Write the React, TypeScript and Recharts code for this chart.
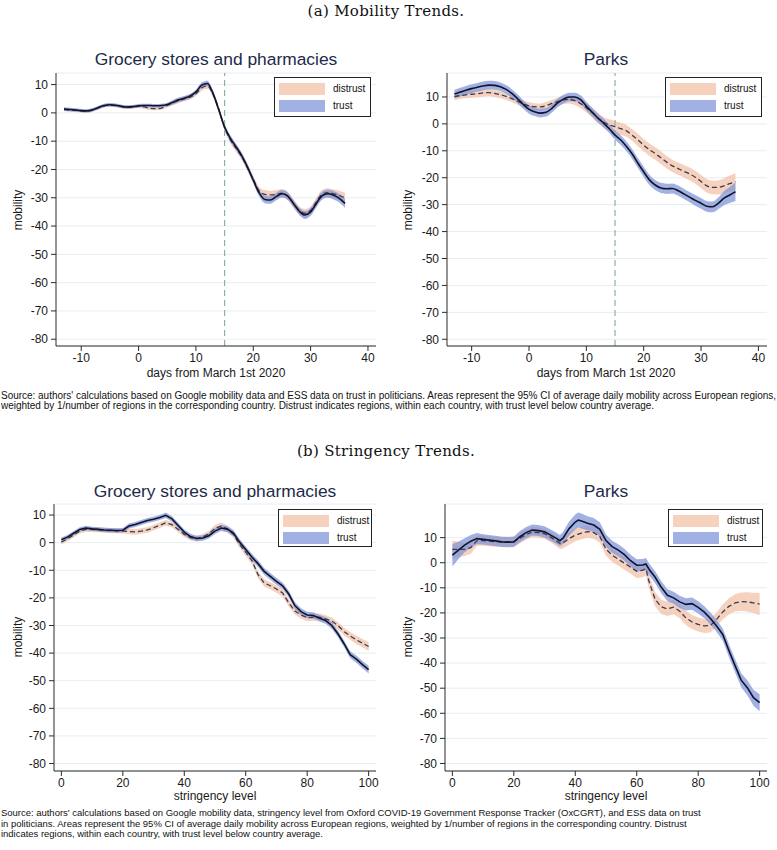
import React from 'react';
import {
  ComposedChart,
  Area,
  Line,
  XAxis,
  YAxis,
  CartesianGrid,
  ReferenceLine,
} from 'recharts';

// days from March 1st 2020
const days = [
  -13, -12, -11, -10, -9, -8, -7, -6, -5, -4, -3, -2, -1, 0, 1, 2, 3, 4, 5, 6, 7, 8, 9, 10, 11, 12,
  13, 14, 15, 16, 17, 18, 19, 20, 21, 22, 23, 24, 25, 26, 27, 28, 29, 30, 31, 32, 33, 34, 35, 36,
];

// (a) grocery stores and pharmacies
const groceryDaysTrust = [
  1.4, 1.2, 1.0, 0.8, 0.7, 1.1, 1.9, 2.6, 2.9, 2.7, 2.3, 2.1, 2.2, 2.5, 2.6, 2.6, 2.5, 2.6, 3.0, 3.8,
  4.6, 5.2, 6.0, 7.4, 9.8, 10.4, 6.8, 1.0, -5.0, -9.0, -12.0, -15.2, -19.2, -23.8, -28.2, -30.6,
  -30.8, -29.6, -28.6, -29.4, -32.0, -34.7, -36.1, -35.0, -32.0, -29.3, -28.6, -29.1, -30.2, -32.0,
];
const groceryDaysDistrust = [
  1.2, 1.0, 0.9, 0.7, 0.6, 1.0, 1.8, 2.5, 2.8, 2.6, 2.2, 2.0, 2.1, 2.3, 2.1, 1.6, 1.5, 1.7, 2.6, 3.6,
  4.4, 5.0, 5.6, 6.8, 8.8, 9.5, 6.5, 1.2, -5.2, -9.5, -12.5, -15.5, -19.5, -23.5, -27.5, -28.8,
  -29.0, -28.8, -28.4, -29.4, -32.0, -34.5, -35.5, -34.5, -31.5, -28.8, -28.2, -28.6, -29.2, -30.0,
];
const groceryDaysTrustCI = [
  0.6, 0.6, 0.6, 0.6, 0.6, 0.6, 0.6, 0.6, 0.6, 0.6, 0.6, 0.6, 0.6, 0.6, 0.6, 0.6, 0.6, 0.6, 0.6, 0.8,
  0.8, 0.8, 0.8, 0.8, 0.9, 1.0, 1.0, 1.0, 1.0, 1.1, 1.1, 1.1, 1.1, 1.1, 1.2, 1.3, 1.3, 1.3, 1.3, 1.3,
  1.3, 1.3, 1.4, 1.4, 1.4, 1.4, 1.4, 1.5, 1.5, 1.6,
];
const groceryDaysDistrustCI = [
  0.6, 0.6, 0.6, 0.6, 0.6, 0.6, 0.6, 0.6, 0.6, 0.6, 0.6, 0.6, 0.6, 0.6, 0.6, 0.6, 0.6, 0.6, 0.7, 0.9,
  0.9, 0.9, 0.9, 0.9, 1.0, 1.0, 1.1, 1.1, 1.1, 1.2, 1.2, 1.2, 1.2, 1.3, 1.4, 1.5, 1.5, 1.5, 1.5, 1.5,
  1.5, 1.5, 1.5, 1.5, 1.5, 1.5, 1.6, 1.6, 1.7, 1.8,
];

// (a) parks
const parksDaysTrust = [
  11.1, 11.8, 12.5, 13.1, 13.6, 14.1, 14.4, 14.3, 13.8, 12.8, 11.3, 9.4, 7.2, 5.4, 4.5, 4.0, 4.3, 5.8,
  7.8, 9.2, 10.0, 10.0, 9.0, 6.6, 4.4, 2.2, 0.3, -1.8, -4.2, -6.0, -8.4, -11.2, -14.6, -17.8, -20.8,
  -22.7, -23.8, -24.1, -24.0, -24.8, -26.0, -27.2, -28.4, -29.5, -30.6, -30.8, -29.5, -27.6, -26.4, -25.2,
];
const parksDaysDistrust = [
  10.1, 10.5, 10.8, 11.0, 11.2, 11.5, 11.6, 11.3, 10.8, 10.2, 9.4, 8.4, 7.4, 6.7, 6.4, 6.3, 6.8, 7.6,
  8.3, 8.9, 9.1, 8.6, 7.5, 6.0, 4.2, 2.2, 0.6, -0.4, -1.0, -1.8, -2.6, -4.2, -6.0, -7.9, -9.6, -11.0,
  -12.6, -14.2, -15.6, -16.6, -17.6, -18.6, -19.8, -21.4, -23.0, -23.6, -23.6, -23.0, -22.2, -21.5,
];
const parksDaysTrustCI = [
  1.6, 1.6, 1.6, 1.6, 1.6, 1.6, 1.6, 1.6, 1.6, 1.6, 1.6, 1.6, 1.6, 1.6, 1.6, 1.6, 1.6, 1.6, 1.6, 1.6,
  1.6, 1.6, 1.6, 1.6, 1.6, 1.6, 1.6, 1.6, 1.7, 1.8, 1.8, 1.8, 1.8, 1.9, 1.9, 1.9, 1.9, 1.9, 1.9, 1.9,
  1.9, 1.9, 2.0, 2.0, 2.0, 2.0, 2.2, 2.6, 3.0, 3.4,
];
const parksDaysDistrustCI = [
  1.3, 1.3, 1.3, 1.3, 1.3, 1.3, 1.3, 1.3, 1.3, 1.3, 1.3, 1.3, 1.3, 1.3, 1.3, 1.3, 1.3, 1.4, 1.4, 1.5,
  1.5, 1.6, 1.7, 1.8, 1.9, 2.0, 2.0, 2.1, 2.1, 2.2, 2.2, 2.2, 2.3, 2.3, 2.3, 2.3, 2.3, 2.3, 2.3, 2.3,
  2.3, 2.4, 2.4, 2.4, 2.5, 2.5, 2.6, 2.8, 3.0, 3.2,
];

// (b) stringency level
const stringency = [
  0, 2, 4, 6, 8, 10, 12, 14, 16, 18, 20, 22, 24, 26, 28, 30, 32, 34, 36, 38, 40, 42, 44, 46, 48, 50,
  52, 54, 56, 58, 60, 62, 64, 66, 68, 70, 72, 74, 76, 78, 80, 82, 84, 86, 88, 90, 92, 94, 96, 98, 100,
];
const groceryStrTrust = [
  1.1, 2.0, 3.4, 4.8, 5.3, 5.0, 4.8, 4.6, 4.5, 4.4, 4.5, 6.0, 6.6, 7.3, 8.0, 8.5, 9.1, 9.9, 8.6, 6.2,
  3.8, 2.2, 1.5, 1.7, 2.5, 4.2, 5.3, 4.9, 3.5, 0.2, -2.5, -5.2, -7.6, -10.4, -12.2, -14.0, -15.6,
  -18.6, -22.8, -25.0, -26.2, -26.4, -27.4, -28.2, -30.0, -33.0, -36.6, -40.6, -42.2, -44.2, -46.0,
];
const groceryStrDistrust = [
  0.2, 1.4, 2.8, 4.2, 4.8, 4.8, 4.7, 4.5, 4.4, 4.3, 4.2, 4.0, 3.9, 4.2, 4.6, 5.4, 6.3, 7.2, 6.5, 4.8,
  3.0, 1.8, 1.5, 2.0, 3.2, 5.2, 6.0, 5.0, 3.0, -0.6, -3.5, -6.5, -11.6, -14.6, -15.6, -16.8, -18.2,
  -21.8, -24.8, -26.2, -27.2, -27.0, -27.0, -27.6, -28.4, -30.0, -32.2, -33.8, -35.2, -36.4, -37.6,
];
const groceryStrTrustCI = [
  0.8, 0.8, 0.8, 0.8, 0.8, 0.8, 0.8, 0.8, 0.8, 0.8, 0.8, 0.9, 0.9, 0.9, 0.9, 0.9, 0.9, 1.0, 1.0, 1.0,
  1.0, 1.0, 1.0, 1.0, 1.0, 1.1, 1.1, 1.1, 1.1, 1.1, 1.1, 1.2, 1.2, 1.2, 1.2, 1.2, 1.2, 1.2, 1.2, 1.2,
  1.2, 1.2, 1.2, 1.2, 1.2, 1.2, 1.2, 1.3, 1.3, 1.3, 1.4,
];
const groceryStrDistrustCI = [
  0.9, 0.9, 0.9, 0.9, 0.9, 0.9, 0.9, 0.9, 0.9, 0.9, 0.9, 1.0, 1.0, 1.0, 1.0, 1.0, 1.0, 1.0, 1.0, 1.0,
  1.0, 1.0, 1.0, 1.0, 1.1, 1.2, 1.3, 1.2, 1.2, 1.2, 1.2, 1.3, 1.3, 1.3, 1.3, 1.3, 1.3, 1.3, 1.3, 1.3,
  1.3, 1.3, 1.3, 1.3, 1.3, 1.3, 1.4, 1.4, 1.5, 1.5, 1.6,
];

const stringencyParks = [
  0, 2, 4, 6, 8, 10, 12, 14, 16, 18, 20, 22, 24, 26, 28, 30, 32, 34, 35, 36, 38, 40, 41, 42, 44, 46,
  48, 50, 52, 54, 56, 58, 60, 62, 63, 64, 66, 68, 70, 72, 74, 76, 78, 80, 82, 84, 86, 88, 90, 92, 94,
  96, 98, 100,
];
const parksStrTrust = [
  3.0, 5.0, 7.0, 8.6, 9.6, 9.3, 9.0, 8.7, 8.3, 8.2, 8.3, 10.4, 12.0, 13.0, 12.8, 12.3, 11.0, 9.6, 8.8,
  9.8, 13.6, 16.2, 17.0, 16.6, 15.7, 15.0, 13.3, 8.8, 6.4, 5.0, 3.2, 0.8, -1.0, -0.9, -0.5, -2.6, -5.8,
  -9.8, -13.0, -14.0, -15.6, -16.6, -16.3, -17.8, -19.7, -22.2, -25.2, -28.6, -35.0, -41.0, -46.8,
  -49.8, -53.8, -55.8,
];
const parksStrDistrust = [
  5.3, 5.3, 5.3, 6.0, 8.8, 8.8, 8.6, 8.4, 8.3, 8.3, 8.4, 9.8, 11.2, 12.2, 12.0, 11.6, 10.2, 8.6, 7.7,
  7.9, 9.6, 11.0, 11.4, 11.8, 12.4, 12.0, 10.4, 5.4, 3.0, 1.4, -0.2, -1.8, -3.4, -3.0, -2.4, -7.5,
  -14.6, -17.6, -18.4, -17.7, -19.3, -22.0, -23.6, -24.6, -25.2, -25.0, -22.6, -19.6, -17.4, -16.0,
  -15.5, -15.6, -16.0, -16.5,
];
const parksStrTrustCI = [
  4.5, 3.5, 2.8, 2.4, 2.2, 2.0, 2.0, 2.0, 2.0, 2.0, 2.0, 2.2, 2.2, 2.2, 2.2, 2.2, 2.2, 2.2, 2.2, 2.4,
  2.8, 3.0, 3.0, 3.0, 2.8, 2.8, 2.8, 2.4, 2.4, 2.4, 2.4, 2.4, 2.4, 2.4, 2.4, 2.4, 2.4, 2.4, 2.4, 2.4,
  2.4, 2.4, 2.4, 2.4, 2.4, 2.4, 2.4, 2.4, 2.6, 2.6, 2.8, 3.0, 3.2, 3.4,
];
const parksStrDistrustCI = [
  3.6, 3.0, 2.6, 2.4, 2.0, 2.0, 2.0, 2.0, 2.0, 2.0, 2.0, 2.0, 2.0, 2.0, 2.0, 2.0, 2.0, 2.2, 2.2, 2.2,
  2.4, 2.4, 2.4, 2.4, 2.4, 2.4, 2.4, 2.6, 2.6, 2.6, 2.6, 2.6, 2.8, 2.8, 2.8, 2.8, 2.8, 2.8, 2.8, 2.8,
  2.8, 2.8, 2.8, 2.8, 2.8, 2.8, 2.8, 3.0, 3.2, 3.4, 3.6, 3.8, 4.0, 4.4,
];

const yTicks = [-80, -70, -60, -50, -40, -30, -20, -10, 0, 10];
const dayTicks = [-10, 0, 10, 20, 30, 40];
const strTicks = [0, 20, 40, 60, 80, 100];

const DISTRUST_FILL = '#f2bea3';
const TRUST_FILL = '#7d93d8';
const AXIS = '#2b2b2b';
const FONT = '"Liberation Sans", Arial, Helvetica, sans-serif';

function buildRows(xs: number[], trust: number[], trustCI: number[], distrust: number[], distrustCI: number[]) {
  return xs.map((x, i) => ({
    x,
    trust: trust[i],
    distrust: distrust[i],
    trustBand: [trust[i] - trustCI[i], trust[i] + trustCI[i]],
    distrustBand: [distrust[i] - distrustCI[i], distrust[i] + distrustCI[i]],
  }));
}

const Centered = ({ x, y, children, style }: any) => (
  <div
    style={{
      position: 'absolute',
      left: x,
      top: y,
      transform: 'translate(-50%, -50%)',
      whiteSpace: 'nowrap',
      fontFamily: FONT,
      ...style,
    }}
  >
    {children}
  </div>
);

const LegendBox = ({ left, top, width, height }: any) => (
  <div
    style={{
      position: 'absolute',
      left,
      top,
      width,
      height,
      boxSizing: 'border-box',
      border: '1px solid #222',
      background: '#fff',
      fontFamily: FONT,
      fontSize: 10,
      color: '#111',
    }}
  >
    {[
      { name: 'distrust', fill: DISTRUST_FILL, op: 0.7 },
      { name: 'trust', fill: TRUST_FILL, op: 0.72 },
    ].map((e, i) => (
      <div key={e.name} style={{ position: 'absolute', left: 4, top: 4 + i * 17, height: 13, display: 'flex', alignItems: 'center' }}>
        <div style={{ width: 46, height: 12, background: e.fill, opacity: e.op }} />
        <span style={{ marginLeft: 8 }}>{e.name}</span>
      </div>
    ))}
  </div>
);

interface PanelProps {
  rows: any[];
  plot: { l: number; t: number; r: number; b: number };
  xDomain: number[];
  yDomain: number[];
  xTicks: number[];
  curve: 'monotone' | 'linear';
  refX?: number;
}

const YW = 50;
const XH = 30;

const Panel = ({ rows, plot, xDomain, yDomain, xTicks, curve, refX }: PanelProps) => {
  const width = plot.r - plot.l + YW + 4;
  const height = plot.b - plot.t + XH + 4;
  return (
    <div style={{ position: 'absolute', left: plot.l - YW, top: plot.t - 4 }}>
      <ComposedChart width={width} height={height} data={rows} margin={{ top: 4, right: 4, left: 0, bottom: 0 }}>
        <CartesianGrid vertical={false} stroke="#e6eef2" strokeWidth={1} />
        <XAxis
          dataKey="x"
          type="number"
          domain={xDomain}
          ticks={xTicks}
          allowDataOverflow
          height={XH}
          stroke={AXIS}
          tickSize={5}
          tickMargin={2}
          tick={{ fontSize: 12, fill: '#1a1a1a', fontFamily: FONT }}
        />
        <YAxis
          type="number"
          domain={yDomain}
          ticks={yTicks}
          allowDataOverflow
          width={YW}
          stroke={AXIS}
          tickSize={5}
          tickMargin={3}
          tick={{ fontSize: 12, fill: '#1a1a1a', fontFamily: FONT }}
        />
        <Area
          type={curve}
          dataKey="distrustBand"
          stroke="none"
          fill={DISTRUST_FILL}
          fillOpacity={0.7}
          isAnimationActive={false}
        />
        <Area
          type={curve}
          dataKey="trustBand"
          stroke="none"
          fill={TRUST_FILL}
          fillOpacity={0.72}
          isAnimationActive={false}
        />
        {refX !== undefined && (
          <ReferenceLine x={refX} stroke="#8fb0a6" strokeWidth={1.2} strokeDasharray="6 4" />
        )}
        <Line
          type={curve}
          dataKey="distrust"
          stroke="#343d55"
          strokeWidth={1.3}
          strokeDasharray="5 3"
          dot={false}
          isAnimationActive={false}
        />
        <Line
          type={curve}
          dataKey="trust"
          stroke="#10132a"
          strokeWidth={1.6}
          dot={false}
          isAnimationActive={false}
        />
      </ComposedChart>
    </div>
  );
};

const titleStyle = { fontSize: 17.4, color: '#1d2a4a' };
const axisLabelStyle = { fontSize: 12, color: '#1a1a1a' };
const captionStyle = { fontFamily: '"DejaVu Serif", "Liberation Serif", serif', fontSize: 15, letterSpacing: 0.3, color: '#111' };
const sourceStyle: any = {
  position: 'absolute',
  left: 1,
  fontFamily: FONT,
  fontSize: 10,
  lineHeight: '10px',
  color: '#111',
  whiteSpace: 'nowrap',
  letterSpacing: -0.02,
};

export default function App() {
  const p1 = buildRows(days, groceryDaysTrust, groceryDaysTrustCI, groceryDaysDistrust, groceryDaysDistrustCI);
  const p2 = buildRows(days, parksDaysTrust, parksDaysTrustCI, parksDaysDistrust, parksDaysDistrustCI);
  const p3 = buildRows(stringency, groceryStrTrust, groceryStrTrustCI, groceryStrDistrust, groceryStrDistrustCI);
  const p4 = buildRows(stringencyParks, parksStrTrust, parksStrTrustCI, parksStrDistrust, parksStrDistrustCI);

  return (
    <div style={{ position: 'absolute', left: 0, top: 0, width: 777, height: 850, background: '#fff', overflow: 'hidden' }}>
      <Centered x={386} y={11} style={captionStyle}>(a) Mobility Trends.</Centered>

      <Centered x={216} y={59} style={titleStyle}>Grocery stores and pharmacies</Centered>
      <Centered x={606} y={59} style={titleStyle}>Parks</Centered>

      <Panel rows={p1} plot={{ l: 56, t: 73, r: 376, b: 346 }} xDomain={[-14.4, 41.4]} yDomain={[-82.4, 14.1]} xTicks={dayTicks} curve="monotone" refX={15} />
      <Panel rows={p2} plot={{ l: 447, t: 73, r: 767, b: 346 }} xDomain={[-14.3, 41.5]} yDomain={[-82.5, 18.9]} xTicks={dayTicks} curve="monotone" refX={15} />

      <LegendBox left={274} top={77} width={97} height={40} />
      <LegendBox left={665} top={77} width={97} height={40} />

      <Centered x={18} y={210} style={{ ...axisLabelStyle, transform: 'translate(-50%, -50%) rotate(-90deg)' }}>mobility</Centered>
      <Centered x={408} y={210} style={{ ...axisLabelStyle, transform: 'translate(-50%, -50%) rotate(-90deg)' }}>mobility</Centered>
      <Centered x={216} y={373} style={axisLabelStyle}>days from March 1st 2020</Centered>
      <Centered x={606} y={373} style={axisLabelStyle}>days from March 1st 2020</Centered>

      <div style={{ ...sourceStyle, top: 391 }}>
        Source: authors' calculations based on Google mobility data and ESS data on trust in politicians. Areas represent the 95% CI of average daily mobility across European regions,
        <br />
        weighted by 1/number of regions in the corresponding country. Distrust indicates regions, within each country, with trust level below country average.
      </div>

      <Centered x={386} y={451} style={captionStyle}>(b) Stringency Trends.</Centered>

      <Centered x={215} y={491} style={titleStyle}>Grocery stores and pharmacies</Centered>
      <Centered x={606} y={491} style={titleStyle}>Parks</Centered>

      <Panel rows={p3} plot={{ l: 54, t: 504, r: 376, b: 771 }} xDomain={[-2.4, 102.4]} yDomain={[-82.7, 14]} xTicks={strTicks} curve="linear" />
      <Panel rows={p4} plot={{ l: 445, t: 504, r: 767, b: 771 }} xDomain={[-2.4, 102.4]} yDomain={[-83, 23.4]} xTicks={strTicks} curve="linear" />

      <LegendBox left={278} top={509} width={94} height={38} />
      <LegendBox left={668} top={509} width={95} height={38} />

      <Centered x={18} y={637} style={{ ...axisLabelStyle, transform: 'translate(-50%, -50%) rotate(-90deg)' }}>mobility</Centered>
      <Centered x={408} y={637} style={{ ...axisLabelStyle, transform: 'translate(-50%, -50%) rotate(-90deg)' }}>mobility</Centered>
      <Centered x={215} y={796} style={axisLabelStyle}>stringency level</Centered>
      <Centered x={606} y={796} style={axisLabelStyle}>stringency level</Centered>

      <div style={{ ...sourceStyle, top: 808, fontSize: 9.5, lineHeight: '10.5px' }}>
        Source: authors' calculations based on Google mobility data, stringency level from Oxford COVID-19 Government Response Tracker (OxCGRT), and ESS data on trust
        <br />
        in politicians. Areas represent the 95% CI of average daily mobility across European regions, weighted by 1/number of regions in the corresponding country. Distrust
        <br />
        indicates regions, within each country, with trust level below country average.
      </div>
    </div>
  );
}
